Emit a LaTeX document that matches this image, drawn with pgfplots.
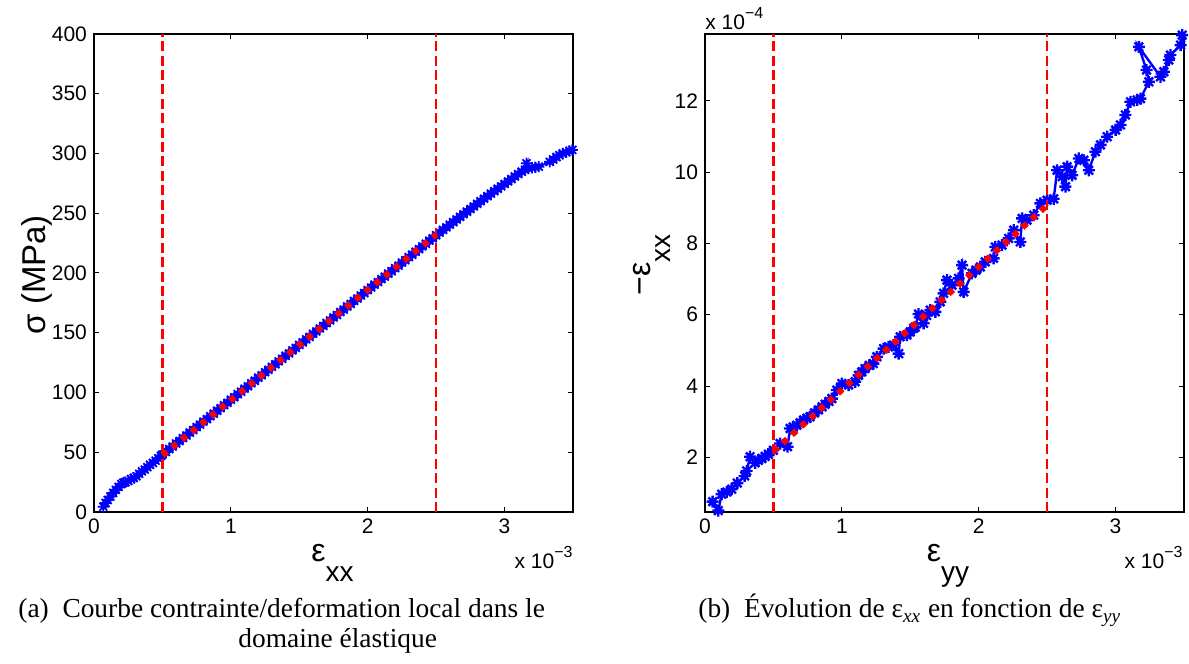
\documentclass[border=0pt]{standalone}
\usepackage{fontspec}
\setmainfont{Liberation Sans}
\newfontfamily\capfont{Liberation Serif}
\usepackage{pgfplots}
\pgfplotsset{compat=1.18}
\pgfdeclareplotmark{mstar}{%
 \pgfpathmoveto{\pgfqpoint{0pt}{\pgfplotmarksize}}\pgfpathlineto{\pgfqpoint{0pt}{-\pgfplotmarksize}}%
 \pgfpathmoveto{\pgfqpoint{\pgfplotmarksize}{0pt}}\pgfpathlineto{\pgfqpoint{-\pgfplotmarksize}{0pt}}%
 \pgfpathmoveto{\pgfqpoint{0.7071\pgfplotmarksize}{0.7071\pgfplotmarksize}}\pgfpathlineto{\pgfqpoint{-0.7071\pgfplotmarksize}{-0.7071\pgfplotmarksize}}%
 \pgfpathmoveto{\pgfqpoint{-0.7071\pgfplotmarksize}{0.7071\pgfplotmarksize}}\pgfpathlineto{\pgfqpoint{0.7071\pgfplotmarksize}{-0.7071\pgfplotmarksize}}%
 \pgfusepathqstroke}
\pgfplotsset{
  mstyle/.style={
    scale only axis, width=239.5pt, height=239pt,
    xmin=0, xmax=3.5, xtick={0,1,2,3},
    tick align=inside, major tick length=2.5pt,
    axis line style={line width=0.6pt}, every tick/.style={line width=0.5pt,black},
    ticklabel style={font=\fontsize{10.5}{12}\selectfont},
    /pgf/number format/assume math mode=true,
    clip=false, clip marker paths=true,
  }
}
\begin{document}
\begin{tikzpicture}
\useasboundingbox (0,0) rectangle (594.5pt,332pt);
% ---------------- left
\begin{axis}[mstyle, at={(47pt,76pt)}, anchor=south west,
  ymin=0, ymax=400, ytick={0,50,...,400}]
\addplot[blue, line width=1pt, mark=mstar, mark size=2.8pt, mark options={line width=0.9pt}] coordinates {
(0.068,4.4) (0.085,7.5) (0.10,10) (0.12,13) (0.14,16) (0.16,18.5) (0.18,21) (0.20,23.5) (0.215,24.5)
(0.23,25) (0.25,26) (0.27,27.5) (0.29,28.5) (0.31,29.8) (0.33,32) (0.35,34) (0.37,35.5) (0.39,37.5)
(0.41,39.5) (0.43,41) (0.45,43) (0.47,45) (0.49,47)
(0.500,48.0) (0.525,50.2) (0.550,52.7) (0.575,54.8) (0.600,57.3) (0.625,59.4) (0.650,61.9) (0.675,64.0)
(0.700,66.5) (0.725,68.6) (0.750,71.1) (0.775,73.1) (0.800,75.7) (0.825,77.7) (0.850,80.2) (0.875,82.3)
(0.900,84.8) (0.925,86.9) (0.950,89.4) (0.975,91.4) (1.000,94.0) (1.025,96.0) (1.050,98.6) (1.075,100.6)
(1.100,103.2) (1.125,105.2) (1.150,107.8) (1.175,109.8) (1.200,112.4) (1.225,114.4) (1.250,117.0) (1.275,119.0)
(1.300,121.5) (1.325,123.6) (1.350,126.1) (1.375,128.2) (1.400,130.7) (1.425,132.7) (1.450,135.3) (1.475,137.3)
(1.500,139.9) (1.525,141.9) (1.550,144.5) (1.575,146.5) (1.600,149.1) (1.625,151.1) (1.650,153.6) (1.675,155.7)
(1.700,158.2) (1.725,160.3) (1.750,162.8) (1.775,164.8) (1.800,167.4) (1.825,169.4) (1.850,172.0) (1.875,174.0)
(1.900,176.6) (1.925,178.6) (1.950,181.2) (1.975,183.2) (2.000,185.7) (2.025,187.8) (2.050,190.3) (2.075,192.4)
(2.100,194.9) (2.125,196.9) (2.150,199.5) (2.175,201.5) (2.200,204.1) (2.225,206.1) (2.250,208.7) (2.275,210.7)
(2.300,213.3) (2.325,215.3) (2.350,217.8) (2.375,219.9) (2.400,222.4) (2.425,224.5) (2.450,227.0) (2.475,229.0)
(2.500,231.6) (2.525,233.8) (2.550,236.1) (2.575,238.2) (2.600,240.4) (2.625,242.6) (2.650,244.8) (2.675,247.0)
(2.700,249.2) (2.725,251.3) (2.750,253.5) (2.775,255.7) (2.800,257.9) (2.825,260.1) (2.850,262.2) (2.875,264.3)
(2.900,266.4) (2.925,268.4) (2.950,270.5) (2.975,272.5) (3.000,274.6) (3.025,276.6) (3.050,278.7) (3.075,280.7)
(3.100,282.8) (3.125,284.8) (3.160,291.8) (3.150,286.5) (3.175,287.5) (3.200,288.0) (3.225,288.5) (3.250,289.0)
(3.330,293.0) (3.355,295.0) (3.380,297.0) (3.400,298.5) (3.425,300.0) (3.450,301.0) (3.475,302.2) (3.495,303.0)
};
\addplot[red, line width=3pt, dash pattern=on 3pt off 3.2pt] coordinates {(0.5,47.5) (2.5,232)};
\addplot[red, line width=1.1pt, dash pattern=on 5pt off 2.2pt] coordinates {(0.5,0) (0.5,400)};
\addplot[red, line width=1.1pt, dash pattern=on 5pt off 2.2pt] coordinates {(2.5,0) (2.5,400)};
\end{axis}
% ---------------- right
\begin{axis}[mstyle, at={(352.5pt,76pt)}, anchor=south west,
  ymin=0.47, ymax=13.87, ytick={2,4,...,12}]
\addplot[blue, line width=1.2pt, mark=mstar, mark size=3pt, mark options={line width=1.2pt}] coordinates {
(0.056,0.76) (0.097,0.51) (0.122,0.97) (0.159,1.03) (0.195,1.11) (0.236,1.28) (0.29,1.48) (0.305,1.62)
(0.329,2.02) (0.366,1.85) (0.39,1.92) (0.415,1.97) (0.44,2.03) (0.463,2.09) (0.5,2.2) (0.549,2.39)
(0.603,2.3) (0.622,2.81) (0.645,2.85) (0.671,2.9) (0.695,2.97) (0.72,3.05) (0.745,3.1) (0.768,3.14)
(0.80,3.25) (0.829,3.33) (0.855,3.42) (0.878,3.49) (0.905,3.57) (0.927,3.65) (0.963,3.89) (1.0,4.07)
(1.049,4.03) (1.097,4.12) (1.122,4.3) (1.145,4.4) (1.17,4.49) (1.2,4.58) (1.23,4.63) (1.256,4.82)
(1.305,5.05) (1.341,5.1) (1.378,5.15) (1.415,4.91) (1.426,5.38) (1.475,5.43) (1.5,5.52) (1.524,5.62)
(1.536,5.65) (1.56,6.02) (1.597,5.76) (1.62,5.98) (1.646,6.13) (1.683,6.08) (1.719,6.36) (1.743,6.6)
(1.768,6.97) (1.805,6.83) (1.853,7.02) (1.878,7.39) (1.89,6.64) (1.951,7.16) (1.98,7.25) (2.012,7.34)
(2.048,7.48) (2.109,7.58) (2.121,7.9) (2.17,7.95) (2.219,8.14) (2.256,8.37) (2.304,8.04) (2.317,8.7)
(2.353,8.65) (2.402,8.79) (2.451,9.12) (2.5,9.21) (2.548,9.25) (2.573,10.05) (2.61,9.87) (2.634,9.59)
(2.646,10.15) (2.682,9.91) (2.731,10.38) (2.768,10.33) (2.804,10.05) (2.853,10.57) (2.89,10.76) (2.939,10.99)
(3.0,11.18) (3.036,11.32) (3.072,11.6) (3.109,11.97) (3.158,12.02) (3.182,12.06) (3.243,12.53) (3.226,12.86)
(3.17,13.51) (3.328,12.67) (3.353,12.81) (3.389,13.14) (3.401,13.28) (3.475,13.56) (3.487,13.84)
};
\addplot[red, line width=3pt, dash pattern=on 3pt off 3.2pt] coordinates {(0.5,2.17) (2.5,9.07)};
\addplot[red, line width=1.1pt, dash pattern=on 5pt off 2.2pt] coordinates {(0.5,0.47) (0.5,13.87)};
\addplot[red, line width=1.1pt, dash pattern=on 5pt off 2.2pt] coordinates {(2.5,0.47) (2.5,13.87)};
\end{axis}
% ---------------- labels
\node[rotate=90, anchor=base, inner sep=0pt, font=\fontsize{16.5}{18}\selectfont] at (22.5pt,194.6pt) {σ (MPa)};
\node[anchor=base, inner sep=0pt, font=\fontsize{14}{16}\selectfont] at (166.3pt,51.2pt) {{\fontsize{16}{16}\selectfont ε}\raisebox{-10pt}{xx}};
\node[anchor=base east, inner sep=0pt, font=\fontsize{10.5}{12}\selectfont] at (286.5pt,47.8pt) {x 10\raisebox{5.5pt}{\fontsize{8}{8}\selectfont −3}};
\node[anchor=base, inner sep=0pt, font=\fontsize{14}{16}\selectfont] at (474pt,51.2pt) {{\fontsize{16}{16}\selectfont ε}\raisebox{-10pt}{yy}};
\node[anchor=base east, inner sep=0pt, font=\fontsize{10.5}{12}\selectfont] at (591.5pt,47.8pt) {x 10\raisebox{5.5pt}{\fontsize{8}{8}\selectfont −3}};
\node[anchor=base west, inner sep=0pt, font=\fontsize{10.5}{12}\selectfont] at (352.5pt,317pt) {x 10\raisebox{5.5pt}{\fontsize{8}{8}\selectfont −4}};
\node[rotate=90, anchor=base, inner sep=0pt, font=\fontsize{14}{16}\selectfont] at (325pt,199.5pt) {{\fontsize{16}{16}\selectfont −ε}\raisebox{-10pt}{xx}};
% ---------------- captions
\node[anchor=base west, inner sep=0pt, font=\capfont\fontsize{13.7}{15}\selectfont] at (9pt,23pt) {(a)\ \ Courbe contrainte/deformation local dans le};
\node[anchor=base west, inner sep=0pt, font=\capfont\fontsize{13.7}{15}\selectfont] at (119pt,8.5pt) {domaine élastique};
\node[anchor=base west, inner sep=0pt, font=\capfont\fontsize{13.7}{15}\selectfont] at (349pt,23pt) {(b)\ \ Évolution de ε\textsubscript{\itshape xx} en fonction de ε\textsubscript{\itshape yy}};
\end{tikzpicture}
\end{document}
